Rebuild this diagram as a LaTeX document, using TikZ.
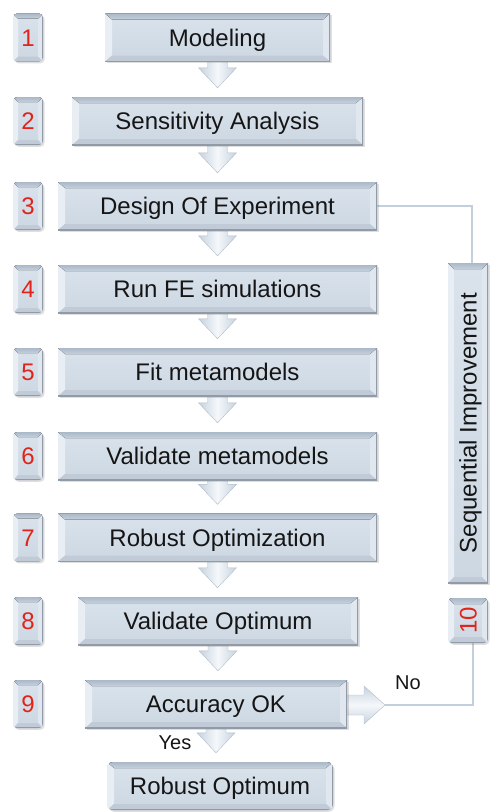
\documentclass[tikz,border=0pt]{standalone}
\usepackage{fontspec}
\setmainfont{Liberation Sans}
\usepackage{graphicx}
\usetikzlibrary{calc,shadows}
\pgfdeclarelayer{bg}
\pgfsetlayers{bg,main}
\definecolor{facetop}{HTML}{DAE3EC}
\definecolor{facebot}{HTML}{CCD7E2}
\definecolor{bvtop}{HTML}{AAB8C8}
\definecolor{bvleft}{HTML}{E8EEF4}
\definecolor{bvright}{HTML}{E0E7EE}
\definecolor{bvbot}{HTML}{C0CBD7}
\definecolor{bvedge}{HTML}{919BA7}
\definecolor{numred}{HTML}{E2231A}
\definecolor{connc}{HTML}{C2D0DE}
\definecolor{arrside}{HTML}{C6D2DE}
\definecolor{arrmid}{HTML}{F5F8FB}
\definecolor{arredge}{HTML}{B2BECA}
\definecolor{txt}{HTML}{151515}
\newcommand\bvx{7pt}
\newcommand\bvy{6pt}
\newcommand\bevelpic{%
  \coordinate (pA) at (path picture bounding box.north west);
  \coordinate (pB) at (path picture bounding box.north east);
  \coordinate (pC) at (path picture bounding box.south east);
  \coordinate (pD) at (path picture bounding box.south west);
  \begin{scope}[sharp corners]
  \fill[bvleft] (pA) -- (pD) -- ([shift={(\bvx,\bvy)}]pD) -- ([shift={(\bvx,-\bvy)}]pA) -- cycle;
  \fill[bvright] (pB) -- (pC) -- ([shift={(-\bvx,\bvy)}]pC) -- ([shift={(-\bvx,-\bvy)}]pB) -- cycle;
  \fill[top color=bvtop, bottom color=bvtop!45!facetop] (pA) -- (pB) -- ([shift={(-\bvx,-\bvy)}]pB) -- ([shift={(\bvx,-\bvy)}]pA) -- cycle;
  \fill[bvbot] (pD) -- (pC) -- ([shift={(-\bvx,\bvy)}]pC) -- ([shift={(\bvx,\bvy)}]pD) -- cycle;
  \draw[bvedge, line width=1.1pt] (pB) -- (pC) -- (pD);
  \end{scope}}
\tikzset{
  bvsize/.code 2 args={\def\bvx{#1}\def\bvy{#2}},
  bevelbase/.style={top color=facetop, bottom color=facebot, inner sep=0pt,
    text=txt, font=\fontsize{24}{28}\selectfont,
    drop shadow={shadow xshift=1.5pt, shadow yshift=-1.8pt, opacity=0.18, fill=black!70},
    path picture={\bevelpic}},
  stepbox/.style={bevelbase, minimum height=48pt, text height=17pt, text depth=0pt},
  numbox/.style={bevelbase, bvsize={5pt}{5pt}, rounded corners=4pt, minimum width=30pt,
    minimum height=48pt, text=numred, text height=17pt, text depth=0pt},
  sidebox/.style={bevelbase, bvsize={6pt}{6pt}, minimum width=40pt},
  conn/.style={draw=connc, line width=1.4pt},
  flowarr/.style={draw=arredge, line width=0.4pt, left color=arrside, right color=arrside, middle color=arrmid},
  flowarrh/.style={draw=arredge, line width=0.4pt, top color=arrside, bottom color=arrside, middle color=arrmid},
  lbl/.style={text=txt, font=\fontsize{20}{24}\selectfont, inner sep=0pt},
}
\newcommand\downarr[2]{%
  \path[flowarr] let \p1=(#1.south), \p2=(#2.north) in
    (\x1-10pt,\y1+4pt) -- (\x1-10pt,\y2+29pt) -- (\x1-19pt,\y2+29pt) -- (\x1,\y2+9pt)
    -- (\x1+19pt,\y2+29pt) -- (\x1+10pt,\y2+29pt) -- (\x1+10pt,\y1+4pt) -- cycle;}
\begin{document}
\begin{tikzpicture}[x=1pt,y=-1pt]
\useasboundingbox (0,0) rectangle (490,812);
% step boxes
\node[stepbox, minimum width=225pt] (b1) at (217.5,37.5) {Modeling};
\node[stepbox, minimum width=291pt] (b2) at (217.5,121) {Sensitivity Analysis};
\node[stepbox, minimum width=319pt] (b3) at (217.5,206) {Design Of Experiment};
\node[stepbox, minimum width=319pt] (b4) at (217.5,289) {Run FE simulations};
\node[stepbox, minimum width=319pt] (b5) at (217.5,372) {Fit metamodels};
\node[stepbox, minimum width=319pt] (b6) at (217.5,456) {Validate metamodels};
\node[stepbox, minimum width=319pt] (b7) at (217.5,537.5) {Robust Optimization};
\node[stepbox, minimum width=280pt] (b8) at (218,621) {Validate Optimum};
\node[stepbox, minimum width=262pt] (b9) at (216,704) {Accuracy OK};
\node[stepbox, rounded corners=6pt, minimum width=226pt] (b10) at (220,786) {Robust Optimum};
% number boxes
\node[numbox] (n1) at (28,37.5) {1};
\node[numbox] (n2) at (28,121) {2};
\node[numbox] (n3) at (28,206) {3};
\node[numbox] (n4) at (28,289) {4};
\node[numbox] (n5) at (28,372) {5};
\node[numbox] (n6) at (28,456) {6};
\node[numbox] (n7) at (28,537.5) {7};
\node[numbox] (n8) at (28,621) {8};
\node[numbox] (n9) at (28,704) {9};
% side boxes
\node[sidebox, minimum height=320pt] (seq) at (468,423)
  {\rotatebox{90}{\raisebox{0pt}[17pt][0pt]{Sequential Improvement}}};
\node[sidebox, rounded corners=4pt, minimum height=45pt, text=numred] (ten) at (468,620.5)
  {\rotatebox{90}{\raisebox{0pt}[17pt][0pt]{10}}};
% labels
\node[lbl] (no) at (408,683) {No};
\node[lbl] (yes) at (175,743) {Yes};
\coordinate (notip) at (385,705);
\begin{pgfonlayer}{bg}
\downarr{b1}{b2}
\downarr{b2}{b3}
\downarr{b3}{b4}
\downarr{b4}{b5}
\downarr{b5}{b6}
\downarr{b6}{b7}
\downarr{b7}{b8}
\downarr{b8}{b9}
\downarr{b9}{b10}
\path[flowarrh] let \p1=(b9.east), \p2=(notip) in
  (\x1-4pt,\y2+10pt) -- (\x2-21pt,\y2+10pt) -- (\x2-21pt,\y2+19pt) -- (\x2,\y2)
  -- (\x2-21pt,\y2-19pt) -- (\x2-21pt,\y2-10pt) -- (\x1-4pt,\y2-10pt) -- cycle;
\draw[conn] (b3.east) -| ([xshift=4pt]seq.north);
\draw[conn] ([xshift=5pt]ten.south) |- (notip);
\end{pgfonlayer}
\end{tikzpicture}
\end{document}
